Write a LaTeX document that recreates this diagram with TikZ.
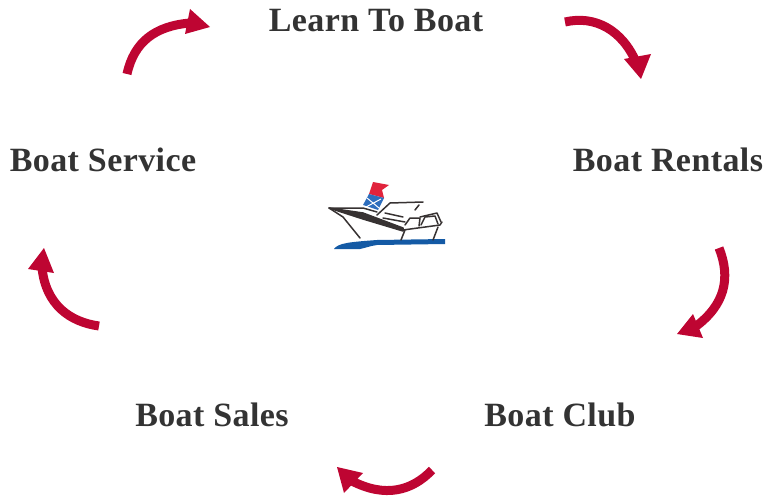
\documentclass[tikz,border=0pt]{standalone}
\usepackage{fontspec}
\setmainfont[LetterSpace=1.2]{Liberation Serif}
\definecolor{crim}{RGB}{190,5,50}
\definecolor{lab}{RGB}{51,51,51}
\definecolor{sea}{RGB}{20,90,165}
\definecolor{flagr}{RGB}{225,35,60}
\definecolor{flagb}{RGB}{45,110,190}
\definecolor{hull}{RGB}{55,50,50}
\tikzset{
 lbl/.style={text=lab,font=\fontsize{34}{36}\selectfont\bfseries,inner sep=0pt,anchor=center},
 stem/.style={draw=crim,line width=9pt,line cap=butt},
 headf/.style={fill=crim},
 ln/.style={draw=hull,line width=1.5pt,line cap=round,line join=round}
}
\begin{document}
\begin{tikzpicture}[x=1pt,y=-1pt]
\useasboundingbox (0,0) rectangle (773,500);
\node[lbl] (learn) at (376,21) {Learn To Boat};
\node[lbl] (rent) at (668,160) {Boat Rentals};
\node[lbl] (club) at (560,415) {Boat Club};
\node[lbl] (sales) at (212,415) {Boat Sales};
\node[lbl] (serv) at (103,160) {Boat Service};
% arrows
\draw[stem] (127,74) .. controls (134,42) and (155,26) .. (190,23);
\fill[headf] (210,27)--(190,9)--(185,34)--cycle;
\draw[stem] (565,22) .. controls (595,15) and (622,30) .. (636,62);
\fill[headf] (641,79)--(624,59)--(651,54)--cycle;
\draw[stem] (719,248) .. controls (731,278) and (725,305) .. (695,327);
\fill[headf] (677,334)--(693,314)--(703,338)--cycle;
\draw[stem] (432,470) .. controls (412,491) and (385,498) .. (352,481);
\fill[headf] (337,467)--(363,473)--(344,493)--cycle;
\draw[stem] (99,326) .. controls (70,322) and (46,305) .. (42,268);
\fill[headf] (44,248)--(28,269)--(54,273)--cycle;
% boat
\fill[flagr] (373,182)--(389,185)--(382,190)--(384,198)--(369,194)--cycle;
\fill[flagb] (369,194)--(384,198)--(378,210)--(363,205)--cycle;
\draw[white,line width=1pt] (367,198)--(379,208) (381,199)--(366,207);
\fill[sea] (334,249) .. controls (338,243) and (350,242) .. (377,240)--(445,239)--(445,244)--(377,245) .. controls (370,246) and (365,248) .. (360,249)--cycle;
\draw[ln,fill=hull] (329,208)--(363,213)--(403,228)--(403,231)--(363,219)--cycle;
\draw[ln] (329,208)--(343,217)--(360,238);
\draw[ln] (329,208)--(363,208)--(377,212);
\draw[ln] (377,215)--(390,203)--(423,202);
\draw[ln] (415,210)--(419,205);
\draw[ln] (385,213)--(403,217);
\draw[ln] (383,218)--(405,222);
\draw[ln] (403,230)--(440,225)--(442,222);
\draw[ln] (405,225)--(410,218)--(420,218)--(419,226);
\draw[ln] (421,225)--(425,217)--(435,216)--(438,224);
\draw[ln] (420,217)--(437,213)--(441,222);
\draw[ln] (405,230)--(401,240);
\draw[ln] (438,227)--(433,240);
\end{tikzpicture}
\end{document}
